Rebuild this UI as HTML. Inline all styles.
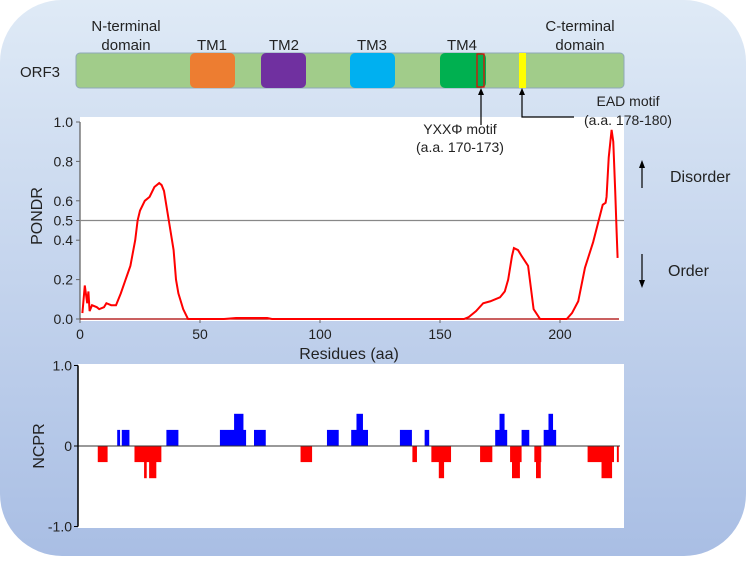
<!DOCTYPE html>
<html><head><meta charset="utf-8"><style>
html,body{margin:0;padding:0;background:#fff;}
body{width:747px;height:557px;overflow:hidden;font-family:"Liberation Sans",sans-serif;}
</style></head><body>
<svg width="747" height="557" viewBox="0 0 747 557" xmlns="http://www.w3.org/2000/svg" font-family="Liberation Sans, sans-serif">
<defs><linearGradient id="bg" x1="0" y1="0" x2="0" y2="1"><stop offset="0" stop-color="#dfeaf6"/><stop offset="1" stop-color="#a9bee4"/></linearGradient></defs>
<rect x="0" y="0" width="746" height="556" rx="62" ry="62" fill="url(#bg)"/>
<rect x="80" y="117" width="544" height="204" fill="#fff"/>
<rect x="78" y="364" width="546" height="164" fill="#fff"/>
<g>
<text x="126" y="31" font-size="15" text-anchor="middle" fill="#222">N-terminal</text>
<text x="126" y="50" font-size="15" text-anchor="middle" fill="#222">domain</text>
<text x="580" y="31" font-size="15" text-anchor="middle" fill="#222">C-terminal</text>
<text x="580" y="50" font-size="15" text-anchor="middle" fill="#222">domain</text>
<text x="212" y="50" font-size="15" text-anchor="middle" fill="#222">TM1</text>
<text x="284" y="50" font-size="15" text-anchor="middle" fill="#222">TM2</text>
<text x="372" y="50" font-size="15" text-anchor="middle" fill="#222">TM3</text>
<text x="462" y="50" font-size="15" text-anchor="middle" fill="#222">TM4</text>
<text x="20" y="77" font-size="15" fill="#222">ORF3</text>
<rect x="76" y="53" width="548" height="35" rx="4" fill="#a1cc8a" stroke="#8fa8b8"/>
<rect x="190" y="53" width="45" height="35" rx="5" fill="#ed7d31"/>
<rect x="261" y="53" width="45" height="35" rx="5" fill="#7030a0"/>
<rect x="350" y="53" width="45" height="35" rx="5" fill="#00b0f0"/>
<rect x="440" y="53" width="46" height="35" rx="5" fill="#00b050"/>
<rect x="477" y="54" width="7" height="33" fill="none" stroke="#e00" stroke-width="1.2"/>
<rect x="519" y="53" width="7" height="35" fill="#ffff00"/>
<line x1="481" y1="125" x2="481" y2="92" stroke="#000" stroke-width="1.2"/>
<polygon points="481,88 478,95 484,95" fill="#000"/>
<polyline points="574,117 522,117 522,92" fill="none" stroke="#000" stroke-width="1.2"/>
<polygon points="522,88 519,95 525,95" fill="#000"/>
<text x="628" y="106" font-size="14" text-anchor="middle" fill="#222">EAD motif</text>
<text x="628" y="125" font-size="14" text-anchor="middle" fill="#222">(a.a. 178-180)</text>
<text x="460" y="134" font-size="14" text-anchor="middle" fill="#222">YXXΦ motif</text>
<text x="460" y="152" font-size="14" text-anchor="middle" fill="#222">(a.a. 170-173)</text>
</g>
<g id="pondr"></g>
<g id="ncpr"></g>
<text transform="translate(42,216) rotate(-90)" font-size="16" text-anchor="middle" fill="#222">PONDR</text>
<text x="349" y="359" font-size="16" text-anchor="middle" fill="#222">Residues (aa)</text>
<text transform="translate(44,446) rotate(-90)" font-size="16" text-anchor="middle" fill="#222">NCPR</text>
<g>
<line x1="642" y1="188" x2="642" y2="166" stroke="#000" stroke-width="1.2"/><polygon points="642,160 639,168 645,168" fill="#000"/>
<text x="670" y="182" font-size="16" fill="#222">Disorder</text></g>
<g>
<line x1="642" y1="254" x2="642" y2="282" stroke="#000" stroke-width="1.2"/><polygon points="642,288 639,280 645,280" fill="#000"/>
<text x="668" y="276" font-size="16" fill="#222">Order</text></g>
</svg>
<script>
const pondrRes=[1,2,3,3.5,4,5,7,8,10,11,13,15,17,19,21,23,24,25,27,29,31,33,34,35,37,39,40,41,43,45,60,65,70,78,80,160,162,165,168,171,175,177,178.4,180,180.8,182.5,184,186.7,189,191.7,202.8,205,207.6,210.4,213.8,217.8,219,219.4,220.3,221.5,222.2,223,223.6,224];
const pondrVal=[0.03,0.17,0.08,0.14,0.04,0.07,0.06,0.05,0.06,0.08,0.07,0.07,0.13,0.2,0.27,0.4,0.5,0.55,0.6,0.62,0.67,0.69,0.68,0.65,0.5,0.35,0.2,0.13,0.05,0,0,0.005,0.005,0.005,0,0,0.01,0.04,0.08,0.09,0.11,0.14,0.2,0.32,0.36,0.35,0.32,0.27,0.05,0,0,0.03,0.09,0.26,0.39,0.58,0.59,0.62,0.82,0.96,0.9,0.65,0.44,0.31];
const pondrYTicks=[0,0.2,0.4,0.5,0.6,0.8,1.0];
const pondrYLabels=["0.0","0.2","0.4","0.5","0.6","0.8","1.0"];
const xTicks=[0,50,100,150,200];
const ncprStart=[7.4,15.5,17.4,22.7,26.7,28.8,36,58.3,64.2,72.5,91.9,102.9,113,115.2,133.3,138.5,143.6,146.4,149.5,166.7,173,174.8,179.2,180,184,189.3,190,193.2,195.2,211.5,217.3,223.7];
const ncprEnd=[11.5,16.7,20.6,33.9,27.8,31.8,41,69.2,68.1,77.4,96.7,107.8,120,117.9,138.3,140.4,145.5,154.6,151.7,171.8,178,176.9,184,183.3,187.2,192.2,192,198.4,197.1,222.5,221.7,224.5];
const ncprVal=[-0.2,0.2,0.2,-0.2,-0.4,-0.4,0.2,0.2,0.4,0.2,-0.2,0.2,0.2,0.4,0.2,-0.2,0.2,-0.2,-0.4,-0.2,0.2,0.4,-0.2,-0.4,0.2,-0.2,-0.4,0.2,0.4,-0.2,-0.4,-0.2];
const ncprYTicks=[-1,0,1];
const ncprYLabels=["-1.0","0","1.0"];
const NS="http://www.w3.org/2000/svg";
function mk(p,t,a){const e=document.createElementNS(NS,t);for(const k in a)e.setAttribute(k,a[k]);p.appendChild(e);return e;}
const xS=r=>80+r*2.4;
const yP=v=>319-v*197;
const yN=v=>446-v*80.5;
const gp=document.getElementById('pondr');


let ax=mk(gp,'line',{x1:80,y1:122,x2:80,y2:319,stroke:'#666','stroke-width':1.3});


pondrYTicks.forEach((t,i)=>{mk(gp,'line',{x1:76,y1:yP(t),x2:80,y2:yP(t),stroke:'#666'});
const tx=mk(gp,'text',{x:73,y:yP(t)+5,'font-size':14,'text-anchor':'end',fill:'#222'});tx.textContent=pondrYLabels[i];

});
xTicks.forEach(t=>{mk(gp,'line',{x1:xS(t),y1:319,x2:xS(t),y2:323,stroke:'#666'});
const tx=mk(gp,'text',{x:xS(t),y:339,'font-size':14,'text-anchor':'middle',fill:'#222'});tx.textContent=t;

});
const th=mk(gp,'line',{x1:80,y1:yP(0.5),x2:624,y2:yP(0.5),stroke:'#888','stroke-width':1.3});


mk(gp,'line',{x1:80,y1:319,x2:619,y2:319,stroke:'#a00','stroke-width':1.3});
const line=mk(gp,'polyline',{points:pondrRes.map((r,i)=>xS(r)+','+yP(pondrVal[i])).join(' '),fill:'none',stroke:'#f00','stroke-width':2});


const gn=document.getElementById('ncpr');


ncprStart.forEach((s,i)=>{const v=ncprVal[i];const y0=yN(0),y1=yN(v);
const b=mk(gn,'rect',{x:xS(s),y:Math.min(y0,y1),width:xS(ncprEnd[i])-xS(s),height:Math.abs(y1-y0),fill:v>0?'#0000ff':'#ff0000'});

});
const zl=mk(gn,'line',{x1:78,y1:yN(0),x2:620,y2:yN(0),stroke:'#333','stroke-width':1});


const ay=mk(gn,'line',{x1:78,y1:yN(1),x2:78,y2:yN(-1),stroke:'#000','stroke-width':1.5});


ncprYTicks.forEach((t,i)=>{mk(gn,'line',{x1:74,y1:yN(t),x2:78,y2:yN(t),stroke:'#000'});
const tx=mk(gn,'text',{x:72,y:yN(t)+5,'font-size':14,'text-anchor':'end',fill:'#222'});tx.textContent=ncprYLabels[i];

});
</script>
</body></html>
